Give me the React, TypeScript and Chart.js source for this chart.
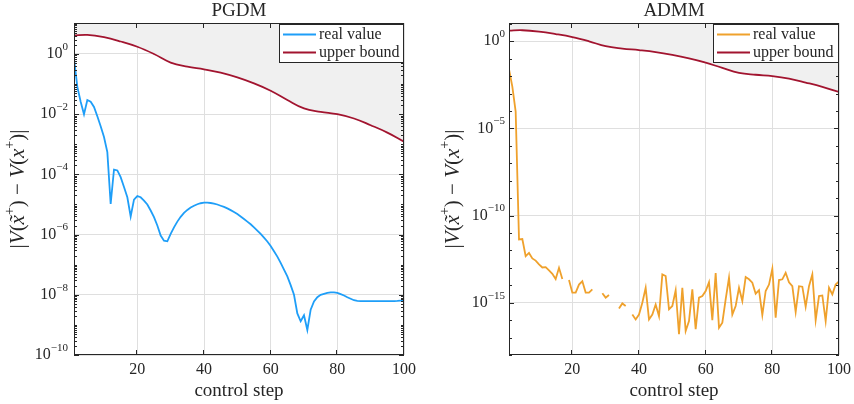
import React, { useEffect, useRef } from 'react';
import { Chart, registerables } from 'chart.js';
Chart.register(...registerables);

// ---------- data ----------
const steps = Array.from({ length: 100 }, (_, i) => i + 1);

const pgdmReal = [
  7.1e-1, 8.1e-2, 2.6e-2, 1.0e-2, 2.95e-2, 2.6e-2, 1.74e-2, 8.5e-3, 4.0e-3, 1.74e-3,
  5.5e-4, 1.05e-5, 1.45e-4, 1.35e-4, 8.1e-5, 3.8e-5, 1.74e-5, 4.0e-6, 1.45e-5, 1.9e-5,
  1.74e-5, 1.35e-5, 1.0e-5, 6.3e-6, 3.8e-6, 2.0e-6, 9.3e-7, 6.3e-7, 6.0e-7, 1.05e-6,
  1.74e-6, 2.7e-6, 3.9e-6, 5.25e-6, 6.6e-6, 7.9e-6, 9.1e-6, 1.02e-5, 1.1e-5, 1.15e-5,
  1.15e-5, 1.12e-5, 1.07e-5, 1.0e-5, 9.1e-6, 8.3e-6, 7.4e-6, 6.5e-6, 5.6e-6, 4.8e-6,
  4.0e-6, 3.3e-6, 2.7e-6, 2.2e-6, 1.74e-6, 1.35e-6, 1.05e-6, 7.9e-7, 5.9e-7, 4.2e-7,
  2.8e-7, 1.86e-7, 1.15e-7, 6.9e-8, 4.1e-8, 2.1e-8, 1.0e-8, 2.4e-9, 1.32e-9, 2.1e-9,
  6.8e-10, 3.2e-9, 6.0e-9, 8.3e-9, 1.0e-8, 1.07e-8, 1.15e-8, 1.2e-8, 1.2e-8, 1.15e-8,
  1.05e-8, 9.5e-9, 8.3e-9, 7.4e-9, 6.6e-9, 6.3e-9, 6.2e-9, 6.2e-9, 6.2e-9, 6.2e-9,
  6.2e-9, 6.2e-9, 6.2e-9, 6.2e-9, 6.2e-9, 6.2e-9, 6.2e-9, 6.3e-9, 6.45e-9, 6.6e-9,
];

const admmReal = [
  2.5e-2, 2.5e-3, 9.3e-5, 4.3e-12, 4.5e-12, 4.7e-13, 7.2e-13, 3.5e-13, 2.6e-13, 1.6e-13,
  1.05e-13, 1.1e-13, 7.1e-14, 4.6e-14, 2.3e-14, 1.0e-13, 2.3e-14, null, 2.0e-14, 3.8e-15,
  3.8e-15, 1.1e-14, 1.7e-14, 3.8e-15, 3.8e-15, 5.8e-15, null, null, 3.5e-15, 1.95e-15,
  2.75e-15, null, null, 4.6e-16, 9.1e-16, 6.5e-16, null, 2.1e-16, 1.1e-16, 2.1e-16,
  1.0e-15, 7.2e-15, 1.1e-16, 2.1e-16, 7.9e-16, 1.7e-16, 4.2e-14, 3.4e-14, 4.2e-16, 6.5e-16,
  5.2e-15, 1.55e-17, 7.2e-15, 2.4e-17, 8.9e-17, 5.8e-15, 3.0e-17, 1.95e-15, 2.4e-15, 4.7e-15,
  1.5e-14, 1.0e-16, 5.0e-14, 3.7e-17, 7.2e-17, 1.55e-15, 2.7e-14, 2.1e-16, 6.5e-16, 7.2e-15,
  1.26e-15, 2.95e-14, 2.2e-14, 1.4e-14, 3.3e-15, 5.2e-15, 1.95e-16, 4.7e-15, 1.1e-14, 8.9e-14,
  1.4e-16, 2.0e-14, 2.2e-14, 5.2e-14, 1.5e-14, 8.9e-15, 2.95e-16, 8.9e-15, 8.3e-15, 5.9e-16,
  8.9e-15, 4.2e-14, 1.0e-16, 2.4e-15, 2.6e-15, 8.9e-17, 7.2e-15, 3.0e-15, 1.1e-14, 1.7e-14,
];

const boundSteps = [1, 5, 10, 15, 20, 25, 30, 35, 40, 45, 50, 55, 60, 65, 70, 75, 80, 85, 90, 95, 100];
const upperBound = [
  4.1, 4.3, 3.6, 2.6, 1.74, 1.0, 0.52, 0.38, 0.31, 0.24, 0.166,
  0.105, 0.06, 0.0295, 0.0155, 0.012, 0.01, 0.0072, 0.0043, 0.00245, 0.00123,
];

const xTickValues = [20, 40, 60, 80, 100];
const pgdmYTicks = [1e-10, 1e-8, 1e-6, 1e-4, 1e-2, 1];
const admmYTicks = [1e-15, 1e-10, 1e-5, 1];
const legendLabels = ['real value', 'upper bound'];
const titles = ['PGDM', 'ADMM'];
const xLabel = 'control step';

// ---------- styling ----------
const AXIS = '#262626';
const GRID = '#dfdfdf';
const FILL = '#f0f0f0';
const RED = '#A2142F';
const BLUE = '#1E9EF8';
const ORANGE = '#EFA12C';
const SERIF = '"Liberation Serif", "Times New Roman", serif';

type Part = { t: string; i?: boolean; sup?: boolean };

function partsWidth(ctx: CanvasRenderingContext2D, parts: Part[], size: number, supSize: number) {
  let w = 0;
  for (const p of parts) {
    ctx.font = `${p.i ? 'italic ' : ''}${p.sup ? supSize : size}px ${SERIF}`;
    w += ctx.measureText(p.t).width;
  }
  return w;
}

function drawParts(
  ctx: CanvasRenderingContext2D, parts: Part[], x: number, y: number,
  size: number, supSize: number, raise: number,
) {
  ctx.textBaseline = 'middle';
  ctx.textAlign = 'left';
  let cx = x;
  for (const p of parts) {
    ctx.font = `${p.i ? 'italic ' : ''}${p.sup ? supSize : size}px ${SERIF}`;
    ctx.fillText(p.t, cx, p.sup ? y - raise : y);
    cx += ctx.measureText(p.t).width;
  }
}

const yLabelParts: Part[] = [
  { t: '|' }, { t: 'V', i: true }, { t: '(' }, { t: 'x\u0303', i: true }, { t: '+', sup: true }, { t: ')' },
  { t: ' \u2212 ' }, { t: 'V', i: true }, { t: '(' }, { t: 'x', i: true }, { t: '+', sup: true }, { t: ')' }, { t: '|' },
];

type Cfg = {
  title: string;
  real: (number | null)[];
  color: string;
  yMin: number;
  yMax: number;
  yTicks: number[];
  minorFull: boolean;
  leftW: number;
  rightPad: number;
  labelGap: number;
  legendW: number;
};

function decorPlugin(cfg: Cfg) {
  return {
    id: 'decor',
    afterDraw(chart: any) {
      const ctx: CanvasRenderingContext2D = chart.ctx;
      const { left, right, top, bottom } = chart.chartArea;
      const xs = chart.scales.x;
      const ys = chart.scales.y;
      ctx.save();
      ctx.strokeStyle = AXIS;
      ctx.fillStyle = AXIS;
      ctx.lineWidth = 1;

      // ticks
      ctx.beginPath();
      for (const v of xTickValues) {
        const px = Math.round(xs.getPixelForValue(v)) - 0.5;
        ctx.moveTo(px, bottom); ctx.lineTo(px, bottom - 5);
        ctx.moveTo(px, top); ctx.lineTo(px, top + 5);
      }
      for (const v of cfg.yTicks) {
        const py = Math.round(ys.getPixelForValue(v)) + 0.5;
        ctx.moveTo(left, py); ctx.lineTo(left + 5, py);
        ctx.moveTo(right, py); ctx.lineTo(right - 5, py);
      }
      const kMin = Math.floor(Math.log10(cfg.yMin));
      const kMax = Math.ceil(Math.log10(cfg.yMax));
      const mults = cfg.minorFull ? [1, 2, 3, 4, 5, 6, 7, 8, 9] : [1];
      for (let k = kMin; k <= kMax; k++) {
        for (const m of mults) {
          const v = m * Math.pow(10, k);
          if (v < cfg.yMin || v > cfg.yMax) continue;
          if (cfg.yTicks.some((t) => Math.abs(Math.log10(t) - Math.log10(v)) < 1e-6)) continue;
          const py = Math.round(ys.getPixelForValue(v)) + 0.5;
          ctx.moveTo(left, py); ctx.lineTo(left + 3, py);
          ctx.moveTo(right, py); ctx.lineTo(right - 3, py);
        }
      }
      ctx.stroke();

      // box
      ctx.strokeRect(left + 0.5, top + 0.5, right - left - 1, bottom - top - 1);

      // x tick labels
      ctx.font = `16px ${SERIF}`;
      ctx.textAlign = 'center';
      ctx.textBaseline = 'middle';
      for (const v of xTickValues) {
        ctx.fillText(String(v), xs.getPixelForValue(v), bottom + 15);
      }

      // y tick labels
      for (const v of cfg.yTicks) {
        const e = Math.round(Math.log10(v));
        const parts: Part[] = [{ t: '10' }, { t: (e < 0 ? '\u2212' : '') + Math.abs(e), sup: true }];
        const w = partsWidth(ctx, parts, 16, 11);
        drawParts(ctx, parts, left - cfg.labelGap - w, ys.getPixelForValue(v), 16, 11, 7);
      }

      // title
      ctx.font = `19px ${SERIF}`;
      ctx.textAlign = 'center';
      ctx.textBaseline = 'middle';
      ctx.fillText(cfg.title, (left + right) / 2, top - 12);
      // x label
      ctx.font = `19px ${SERIF}`;
      ctx.fillText(xLabel, (left + right) / 2, bottom + 36);

      // y label
      ctx.save();
      ctx.translate(left - 56, (top + bottom) / 2);
      ctx.rotate(-Math.PI / 2);
      const lw = partsWidth(ctx, yLabelParts, 21, 14);
      drawParts(ctx, yLabelParts, -lw / 2, 0, 21, 14, 8);
      ctx.restore();

      // legend
      const x0 = right - cfg.legendW;
      const y0 = top + 1;
      ctx.fillStyle = '#ffffff';
      ctx.fillRect(x0, y0, cfg.legendW, 39);
      ctx.strokeStyle = AXIS;
      ctx.strokeRect(x0 + 0.5, y0 + 0.5, cfg.legendW - 1, 38);
      const colors = [cfg.color, RED];
      legendLabels.forEach((lab, i) => {
        const ly = y0 + 10.5 + i * 18;
        ctx.strokeStyle = colors[i];
        ctx.lineWidth = 2;
        ctx.beginPath();
        ctx.moveTo(x0 + 4, ly);
        ctx.lineTo(x0 + 37, ly);
        ctx.stroke();
        ctx.fillStyle = AXIS;
        ctx.font = `16px ${SERIF}`;
        ctx.textAlign = 'left';
        ctx.textBaseline = 'middle';
        ctx.fillText(lab, x0 + 40, ly);
      });
      ctx.restore();
    },
  };
}

function makeConfig(cfg: Cfg): any {
  return {
    type: 'line',
    data: {
      datasets: [
        {
          label: legendLabels[0],
          data: steps.map((s, i) => ({ x: s, y: cfg.real[i] })),
          borderColor: cfg.color,
          borderWidth: 1.8,
          pointRadius: 0,
          fill: false,
          spanGaps: false,
          tension: 0,
        },
        {
          label: legendLabels[1],
          data: boundSteps.map((s, i) => ({ x: s, y: upperBound[i] })),
          borderColor: RED,
          borderWidth: 1.8,
          pointRadius: 0,
          fill: 'end',
          backgroundColor: FILL,
          tension: 0.4,
        },
      ],
    },
    options: {
      responsive: false,
      animation: false,
      devicePixelRatio: 1,
      layout: { padding: { left: 0, top: 23, right: cfg.rightPad, bottom: 0 } },
      plugins: { legend: { display: false }, title: { display: false }, tooltip: { enabled: false } },
      events: [],
      scales: {
        x: {
          type: 'linear',
          min: 1,
          max: 100,
          afterBuildTicks: (s: any) => { s.ticks = xTickValues.map((v) => ({ value: v })); },
          afterFit: (s: any) => { s.height = 49; },
          ticks: { display: false },
          grid: { color: GRID, drawTicks: false, lineWidth: 1 },
          border: { display: false },
        },
        y: {
          type: 'logarithmic',
          min: cfg.yMin,
          max: cfg.yMax,
          afterBuildTicks: (s: any) => { s.ticks = cfg.yTicks.map((v) => ({ value: v })); },
          afterFit: (s: any) => { s.width = cfg.leftW; },
          ticks: { display: false },
          grid: { color: GRID, drawTicks: false, lineWidth: 1 },
          border: { display: false },
        },
      },
    },
    plugins: [decorPlugin(cfg)],
  };
}

const pgdmCfg: Cfg = {
  title: titles[0], real: pgdmReal, color: BLUE, yMin: 1e-10, yMax: 10.7, yTicks: pgdmYTicks,
  minorFull: true, leftW: 74, rightPad: 23, labelGap: 6, legendW: 125,
};
const admmCfg: Cfg = {
  title: titles[1], real: admmReal, color: ORANGE, yMin: 1e-18, yMax: 11.2, yTicks: admmYTicks,
  minorFull: false, leftW: 82, rightPad: 15, labelGap: 4, legendW: 126,
};

function Plot({ cfg, left }: { cfg: Cfg; left: number }) {
  const ref = useRef<HTMLCanvasElement>(null);
  useEffect(() => {
    if (!ref.current) return;
    const chart = new Chart(ref.current, makeConfig(cfg));
    return () => chart.destroy();
  }, [cfg]);
  return (
    <canvas
      ref={ref}
      width={427}
      height={404}
      style={{ position: 'absolute', left, top: 0, width: 427, height: 404 }}
    />
  );
}

export default function App() {
  return (
    <div style={{ position: 'fixed', left: 0, top: 0, width: 854, height: 404, background: '#ffffff', overflow: 'hidden' }}>
      <Plot cfg={pgdmCfg} left={0} />
      <Plot cfg={admmCfg} left={427} />
    </div>
  );
}
